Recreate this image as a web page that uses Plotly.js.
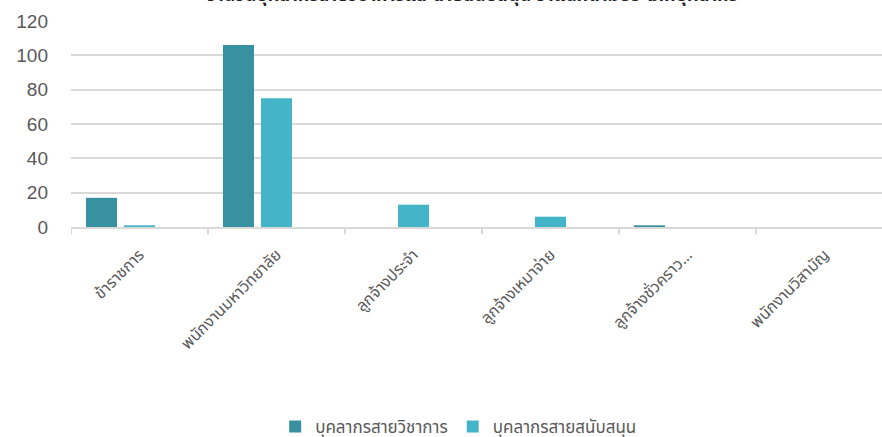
<!DOCTYPE html>
<html>
<head>
<meta charset="utf-8">
<script src="https://cdn.plot.ly/plotly-3.0.1.min.js"></script>
<style>html,body{margin:0;padding:0;background:#fff;}#chart{width:882px;height:437px;}</style>
</head>
<body>
<div id="chart"></div>
<script>
const chartTitle = "จำนวนบุคลากรสายวิชาการและสายสนับสนุน จำแนกตามประเภทบุคลากร";
const categories = ["ข้าราชการ", "พนักงานมหาวิทยาลัย", "ลูกจ้างประจำ", "ลูกจ้างเหมาจ่าย", "ลูกจ้างชั่วคราว...", "พนักงานวิสามัญ"];
const seriesNames = ["บุคลากรสายวิชาการ", "บุคลากรสายสนับสนุน", "ซีรีส์ 3"];
const academic = [17, 106, 0, 0, 1, 0];
const support = [1, 75, 13, 6, 0, 0];
const series3 = [null, null, null, null, null, null];
const yTicks = [0, 20, 40, 60, 80, 100, 120];

const thaiFont = "Tahoma, 'Noto Sans Thai', 'Noto Sans', 'DejaVu Sans', sans-serif";
const idx = categories.map((c, i) => i);

const traces = [
  {type: "bar", x: idx, y: academic, name: seriesNames[0], marker: {color: "#3891a0"}},
  {type: "bar", x: idx, y: support, name: seriesNames[1], marker: {color: "#44b5c8"}},
  {type: "bar", x: idx, y: series3, name: seriesNames[2], showlegend: false, marker: {color: "#2f6f7c"}}
];

const layout = {
  width: 882, height: 437,
  margin: {l: 71, r: 0, t: 21, b: 210},
  paper_bgcolor: "#ffffff", plot_bgcolor: "#ffffff",
  barmode: "group", bargap: 0.168, bargroupgap: 0.184,
  title: {text: chartTitle, font: {family: thaiFont, size: 18, color: "#222222", weight: "bold"}, x: 0.535, xanchor: "center", y: 0.9975, yanchor: "bottom"},
  xaxis: {
    type: "linear", range: [-0.5, 5.42], tickmode: "array", tickvals: idx, ticktext: categories,
    tickangle: -45, tickfont: {family: thaiFont, size: 16, color: "#595959"}, ticklabelstandoff: 10,
    showline: true, linecolor: "#d9d9d9", linewidth: 2,
    ticks: "", showgrid: false, zeroline: false, fixedrange: true
  },
  yaxis: {
    range: [0, 120], tickmode: "array", tickvals: yTicks,
    tickfont: {family: "'Liberation Sans', Arial, sans-serif", size: 19, color: "#595959"}, ticklabelstandoff: 22,
    gridcolor: "#d9d9d9", gridwidth: 2, zeroline: false, showline: false, ticks: "", ticklen: 0,
    automargin: false
  },
  shapes: [0.5, 1.5, 2.5, 3.5, 4.5].concat([-0.5]).map(b => ({type: "line", xref: "x", yref: "paper", x0: b, x1: b, y0: 0, y1: -0.035, line: {color: "#d9d9d9", width: 2}})),
  showlegend: true,
  legend: {orientation: "h", x: 0.478, xanchor: "center", yref: "container", y: 0.023, yanchor: "middle",
    font: {family: thaiFont, size: 17, color: "#595959"}, itemwidth: 30, traceorder: "normal"}
};

Plotly.newPlot("chart", traces, layout, {displayModeBar: false, staticPlot: true});
</script>
</body>
</html>
